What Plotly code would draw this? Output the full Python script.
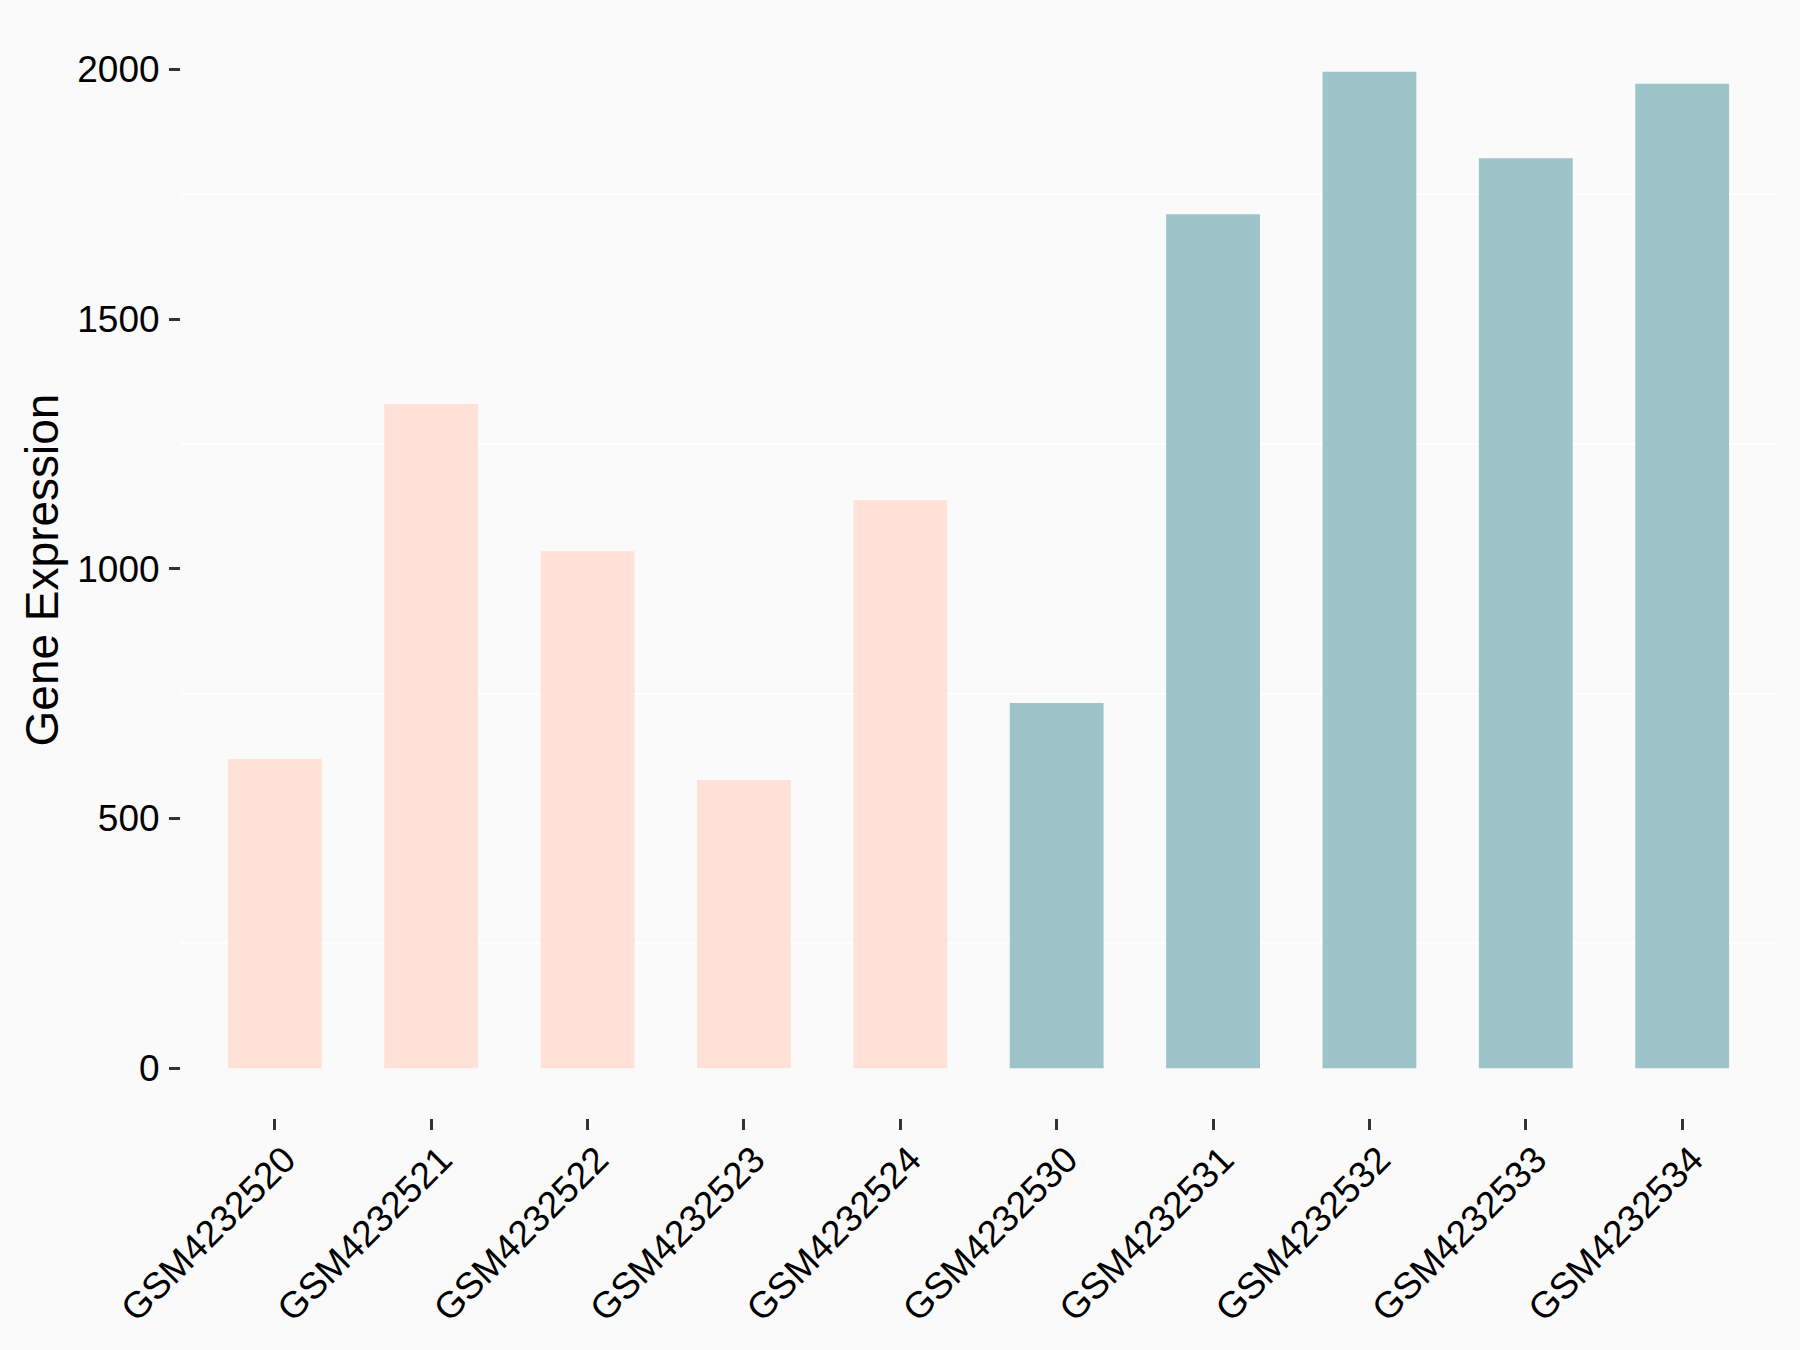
import plotly.graph_objects as go

samples = ["GSM4232520", "GSM4232521", "GSM4232522", "GSM4232523", "GSM4232524",
           "GSM4232530", "GSM4232531", "GSM4232532", "GSM4232533", "GSM4232534"]
expression = [619, 1330, 1035, 577, 1137, 731, 1710, 1995, 1822, 1971]
groups = ["A", "A", "A", "A", "A", "B", "B", "B", "B", "B"]
group_colors = {"A": "#FFE1D7", "B": "#9DC4C8"}
y_ticks = [0, 500, 1000, 1500, 2000]

bg = "#FAFAFA"
font_family = "Liberation Sans, Arial, sans-serif"

fig = go.Figure()
fig.add_trace(go.Bar(
    x=samples,
    y=expression,
    width=0.6,
    marker=dict(color=[group_colors[g] for g in groups], line=dict(width=0)),
    showlegend=False,
))

ymax = max(expression)
pad = 0.05 * ymax

fig.update_layout(
    width=1800,
    height=1350,
    margin=dict(l=181, r=24, t=22, b=232),
    paper_bgcolor=bg,
    plot_bgcolor=bg,
    font=dict(family=font_family, color="black", size=37),
    bargap=0.4,
)

fig.update_xaxes(
    type="category",
    range=[-0.6, len(samples) - 0.4],
    showgrid=False,
    zeroline=False,
    showline=False,
    ticks="outside",
    ticklen=11,
    tickwidth=3,
    tickcolor="#333333",
    tickangle=-45,
    ticklabelshift=10,
    ticklabelstandoff=-7,
    tickfont=dict(size=37, color="black", family=font_family),
)

fig.update_yaxes(
    range=[-pad, ymax + pad],
    tickvals=y_ticks,
    ticktext=[str(v) for v in y_ticks],
    showgrid=False,
    zeroline=False,
    showline=False,
    ticks="outside",
    ticklen=11,
    tickwidth=3,
    tickcolor="#333333",
    ticklabelstandoff=2,
    tickfont=dict(size=37, color="black", family=font_family),
    minor=dict(tickvals=[250, 750, 1250, 1750], showgrid=True, gridcolor="#FFFFFF", gridwidth=2, ticks=""),
    title=dict(text="Gene Expression", font=dict(size=46, color="black", family=font_family), standoff=4),
)

fig.write_html(
    "out.html",
    config={"displayModeBar": False},
    post_script="document.body.style.margin='0';document.body.style.background='#FAFAFA';",
)
